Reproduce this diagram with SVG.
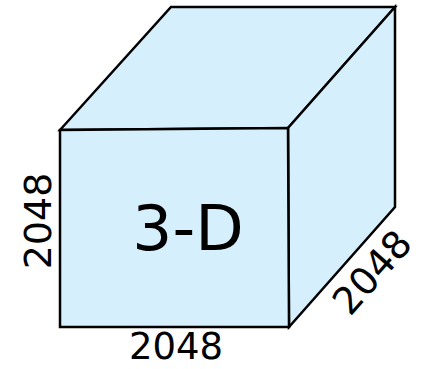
<svg xmlns="http://www.w3.org/2000/svg" width="421" height="369" viewBox="0 0 421 369">
<style>
.face{fill:#d5effc;stroke:#000;stroke-width:2.5;stroke-linejoin:miter}
.lbl{font-family:"DejaVu Sans",sans-serif;fill:#000;text-anchor:middle}
</style>
<rect width="421" height="369" fill="#fff"/>
<g id="cube">
<polygon class="face" points="60,130 171,7 395,7 288,128"/>
<polygon class="face" points="288,128 395,7 395,207 289,327"/>
<polygon class="face" points="60,130 288,128 289,327 60,327"/>
</g>
<g id="label-3d"><text class="lbl" x="188" y="250" font-size="63">3-D</text></g>
<g id="label-bottom"><text class="lbl" x="176" y="359" font-size="37">2048</text></g>
<g id="label-left"><text class="lbl" font-size="38" transform="translate(51,221) rotate(-90)">2048</text></g>
<g id="label-right"><text class="lbl" font-size="38" transform="translate(382,281) rotate(-48.5)">2048</text></g>
</svg>
